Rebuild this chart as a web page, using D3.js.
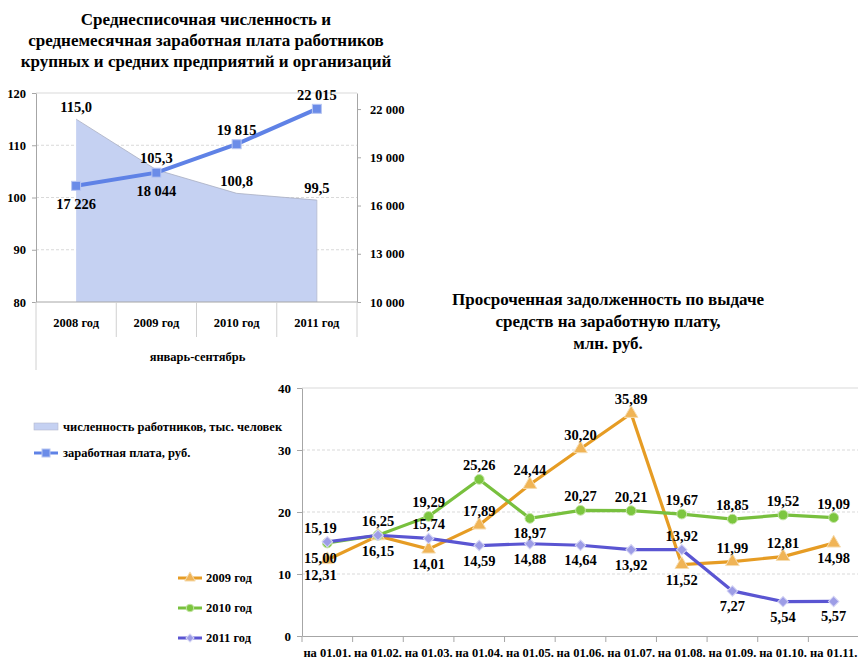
<!DOCTYPE html>
<html>
<head>
<meta charset="utf-8">
<script src="https://cdn.jsdelivr.net/npm/d3@7"></script>
<style>
  body { margin: 0; background: #fff; }
  svg { font-family: "Liberation Serif", "Times New Roman", serif; font-weight: bold; }
  .axis path, .axis line { stroke: #a6a6a6; }
  .axis text { font-size: 12px; font-weight: bold; fill: #000; font-family: "Liberation Serif", serif; }
</style>
</head>
<body>
<svg id="chart" width="858" height="661"></svg>
<script>
// top chart data
const years = ['2008 год', '2009 год', '2010 год', '2011 год']
const workers = [115.0, 105.3, 100.8, 99.5]
const salary = [17226, 18044, 19815, 22015]
const leftTicks = [80, 90, 100, 110, 120]
const rightTicks = [10000, 13000, 16000, 19000, 22000]

// bottom chart data
const dates = ['на 01.01.', 'на 01.02.', 'на 01.03.', 'на 01.04.', 'на 01.05.', 'на 01.06.',
  'на 01.07.', 'на 01.08.', 'на 01.09.', 'на 01.10.', 'на 01.11.']
const debt2009 = [12.31, 16.15, 14.01, 17.89, 24.44, 30.20, 35.89, 11.52, 11.99, 12.81, 14.98]
const debt2010 = [15.00, 16.25, 19.29, 25.26, 18.97, 20.27, 20.21, 19.67, 18.85, 19.52, 19.09]
const debt2011 = [15.19, 16.25, 15.74, 14.59, 14.88, 14.64, 13.92, 13.92, 7.27, 5.54, 5.57]
const debtTicks = [0, 10, 20, 30, 40]
// label placement: a = above, b = below, null = hidden
const lab2009 = ['b', 'b', 'b', 'a', 'a', 'a', 'a', 'b', 'a', 'a', 'b']
const lab2010 = ['b', null, 'a', 'a', 'b', 'a', 'a', 'a', 'a', 'a', 'a']
const lab2011 = ['a', 'a', 'a', 'b', 'b', 'b', 'b', 'a', 'b', 'b', 'b']

const ru = d3.formatLocale({ decimal: ',', thousands: '\u00a0', grouping: [3], currency: ['', ''] })
const fInt = ru.format(',d'), f1 = ru.format('.1f'), f2 = ru.format('.2f')

const svg = d3.select('#chart')

// ---------- top chart ----------
const box1 = { left: 36, right: 357, top: 93, bottom: 302 }

const x1 = d3.scaleBand().domain(years).range([box1.left, box1.right])
const yL = d3.scaleLinear().domain([80, 120]).range([box1.bottom, box1.top])
const yR = d3.scaleLinear().domain([10000, 23000]).range([box1.bottom, box1.top])

svg.append('g').selectAll('line')
  .data(leftTicks.slice(1))
  .enter().append('line')
  .attr('x1', box1.left).attr('x2', box1.right)
  .attr('y1', d => yL(d)).attr('y2', d => yL(d))
  .attr('stroke', '#d9d9d9')
  .attr('stroke-dasharray', d => d === 120 ? null : '3,2')

const cx = d => x1(d) + x1.bandwidth() / 2

const area = d3.area()
  .x((d, i) => cx(years[i]))
  .y0(yL(80))
  .y1(d => yL(d))

svg.append('path')
  .datum(workers)
  .attr('d', area)
  .attr('fill', '#c5d1f2')

svg.append('path')
  .datum(workers)
  .attr('d', d3.line().x((d, i) => cx(years[i])).y(d => yL(d)))
  .attr('fill', 'none')
  .attr('stroke', '#a9afc2')
  .attr('stroke-width', 0.8)

svg.append('line')
  .attr('x1', cx(years[3])).attr('x2', cx(years[3]))
  .attr('y1', yL(workers[3])).attr('y2', yL(80))
  .attr('stroke', '#b4bace').attr('stroke-width', 0.8)

svg.append('path')
  .datum(salary)
  .attr('d', d3.line().x((d, i) => cx(years[i])).y(d => yR(d)))
  .attr('fill', 'none')
  .attr('stroke', '#5f82e6')
  .attr('stroke-width', 4)

svg.append('g').selectAll('rect')
  .data(salary)
  .enter().append('rect')
  .attr('x', (d, i) => cx(years[i]) - 4.5)
  .attr('y', d => yR(d) - 4.5)
  .attr('width', 9).attr('height', 9)
  .attr('fill', '#6b8ce8')
  .attr('stroke', '#b8c6f2')

svg.append('g')
  .attr('class', 'axis')
  .attr('transform', `translate(${box1.left},0)`)
  .call(d3.axisLeft(yL).tickValues(leftTicks).tickSize(4).tickPadding(6).tickSizeOuter(0))
  .selectAll('text').style('font-size', '12.5px')

svg.append('g')
  .attr('class', 'axis')
  .attr('transform', `translate(${box1.right},0)`)
  .call(d3.axisRight(yR).tickValues(rightTicks).tickFormat(fInt).tickSize(4).tickPadding(9).tickSizeOuter(0))
  .selectAll('text').style('font-size', '12.5px')

// category axis
svg.append('line')
  .attr('x1', box1.left).attr('x2', box1.right)
  .attr('y1', box1.bottom).attr('y2', box1.bottom)
  .attr('stroke', '#a6a6a6')

svg.append('g').selectAll('line')
  .data(years.concat(['end']))
  .enter().append('line')
  .attr('x1', d => d === 'end' ? box1.right : x1(d))
  .attr('x2', d => d === 'end' ? box1.right : x1(d))
  .attr('y1', box1.bottom)
  .attr('y2', (d, i) => i === 0 ? 370 : 337)
  .attr('stroke', '#d0d0d0')

svg.append('g').selectAll('text')
  .data(years)
  .enter().append('text')
  .attr('x', d => cx(d))
  .attr('y', 327)
  .attr('text-anchor', 'middle')
  .style('font-size', '12.5px')
  .text(d => d)

svg.append('text')
  .attr('x', (box1.left + box1.right) / 2 + 1)
  .attr('y', 361)
  .attr('text-anchor', 'middle')
  .style('font-size', '12.5px')
  .text('январь-сентябрь')

// data labels top
svg.append('g').selectAll('text')
  .data(workers)
  .enter().append('text')
  .attr('x', (d, i) => cx(years[i]))
  .attr('y', d => yL(d) - 7)
  .attr('text-anchor', 'middle')
  .style('font-size', '14.5px')
  .text(d => f1(d))

svg.append('g').selectAll('text')
  .data(salary)
  .enter().append('text')
  .attr('x', (d, i) => cx(years[i]))
  .attr('y', (d, i) => i < 2 ? yR(d) + 23 : yR(d) - 9)
  .attr('text-anchor', 'middle')
  .style('font-size', '14.5px')
  .text(d => fInt(d))

const title1 = ['Среднесписочная численность и',
  'среднемесячная заработная плата работников',
  'крупных и средних предприятий и организаций']
svg.append('g').selectAll('text')
  .data(title1)
  .enter().append('text')
  .attr('x', 206)
  .attr('y', (d, i) => 25 + i * 21)
  .attr('text-anchor', 'middle')
  .style('font-size', '17px')
  .text(d => d)

// top legend
svg.append('rect')
  .attr('x', 34).attr('y', 423).attr('width', 24).attr('height', 7)
  .attr('fill', '#c5d1f2').attr('stroke', '#b4bace').attr('stroke-width', 0.6)
svg.append('text').attr('x', 63).attr('y', 431).style('font-size', '12.5px')
  .text('численность работников, тыс. человек')

svg.append('line')
  .attr('x1', 34).attr('x2', 58).attr('y1', 453).attr('y2', 453)
  .attr('stroke', '#5f82e6').attr('stroke-width', 3)
svg.append('rect')
  .attr('x', 42).attr('y', 449).attr('width', 8).attr('height', 8)
  .attr('fill', '#6b8ce8').attr('stroke', '#b8c6f2')
svg.append('text').attr('x', 63).attr('y', 457).style('font-size', '12.5px')
  .text('заработная плата, руб.')

// ---------- bottom chart ----------
const box2 = { left: 302, right: 859, top: 388, bottom: 636 }

const x2 = d3.scaleBand().domain(dates).range([box2.left, box2.right])
const y2 = d3.scaleLinear().domain([0, 40]).range([box2.bottom, box2.top])
const cx2 = i => x2(dates[i]) + x2.bandwidth() / 2

svg.append('g').selectAll('line')
  .data(debtTicks.slice(1))
  .enter().append('line')
  .attr('x1', box2.left).attr('x2', box2.right)
  .attr('y1', d => y2(d)).attr('y2', d => y2(d))
  .attr('stroke', '#d9d9d9')
  .attr('stroke-dasharray', d => d === 40 ? null : '3,2')

svg.append('g')
  .attr('class', 'axis')
  .attr('transform', `translate(${box2.left},0)`)
  .call(d3.axisLeft(y2).tickValues(debtTicks).tickSize(5).tickPadding(6).tickSizeOuter(0))
  .selectAll('text').style('font-size', '13px')

const xAx = svg.append('g')
  .attr('class', 'axis')
  .attr('transform', `translate(0,${box2.bottom})`)
  .call(d3.axisBottom(x2).tickSize(0).tickPadding(12).tickSizeOuter(0))
xAx.selectAll('text').style('font-size', '12.5px')

svg.append('g').selectAll('line')
  .data(dates)
  .enter().append('line')
  .attr('x1', d => x2(d)).attr('x2', d => x2(d))
  .attr('y1', box2.bottom).attr('y2', box2.bottom + 6)
  .attr('stroke', '#a6a6a6')

const series = [
  { values: debt2009, labels: lab2009, name: '2009 год', color: '#e69c24', fill: '#f0b456', edge: '#f6dcb0', shape: d3.symbolTriangle, size: 80, rot: 0 },
  { values: debt2010, labels: lab2010, name: '2010 год', color: '#78c03e', fill: '#7cc63f', edge: '#c4e4a4', shape: d3.symbolCircle, size: 75, rot: 0 },
  { values: debt2011, labels: lab2011, name: '2011 год', color: '#5a55d2', fill: '#9d9de6', edge: '#d4d4f4', shape: d3.symbolSquare, size: 55, rot: 45 }
]

const line2 = d3.line().x((d, i) => cx2(i)).y(d => y2(d))

series.forEach(s => {
  svg.append('path')
    .datum(s.values)
    .attr('d', line2)
    .attr('fill', 'none')
    .attr('stroke', s.color)
    .attr('stroke-width', 3.2)
})

series.forEach(s => {
  svg.append('g').selectAll('path')
    .data(s.values)
    .enter().append('path')
    .attr('transform', (d, i) => `translate(${cx2(i)},${y2(d)}) rotate(${s.rot})`)
    .attr('d', d3.symbol().type(s.shape).size(s.size))
    .attr('fill', s.fill)
    .attr('stroke', s.edge)
})

series.forEach(s => {
  svg.append('g').selectAll('text')
    .data(s.values.map((v, i) => ({ v, i, pos: s.labels[i] })).filter(d => d.pos))
    .enter().append('text')
    .attr('x', d => cx2(d.i) - (d.i === 0 ? 7 : 0))
    .attr('y', d => d.pos === 'a' ? y2(d.v) - 9 : y2(d.v) + 20)
    .attr('text-anchor', 'middle')
    .style('font-size', '14.5px')
    .text(d => f2(d.v))
})

// bottom legend
series.forEach((s, i) => {
  const ly = 578 + i * 30
  svg.append('line')
    .attr('x1', 178).attr('x2', 202).attr('y1', ly).attr('y2', ly)
    .attr('stroke', s.color).attr('stroke-width', 3)
  svg.append('path')
    .attr('transform', `translate(190,${ly}) rotate(${s.rot})`)
    .attr('d', d3.symbol().type(s.shape).size(s.size * 0.6))
    .attr('fill', s.fill).attr('stroke', s.edge)
  svg.append('text').attr('x', 206).attr('y', ly + 4).style('font-size', '12.5px').text(s.name)
})

const title2 = ['Просроченная задолженность по выдаче', 'средств на заработную плату,', 'млн. руб.']
svg.append('g').selectAll('text')
  .data(title2)
  .enter().append('text')
  .attr('x', 608)
  .attr('y', (d, i) => 305 + i * 22)
  .attr('text-anchor', 'middle')
  .style('font-size', '17px')
  .text(d => d)
</script>
</body>
</html>
